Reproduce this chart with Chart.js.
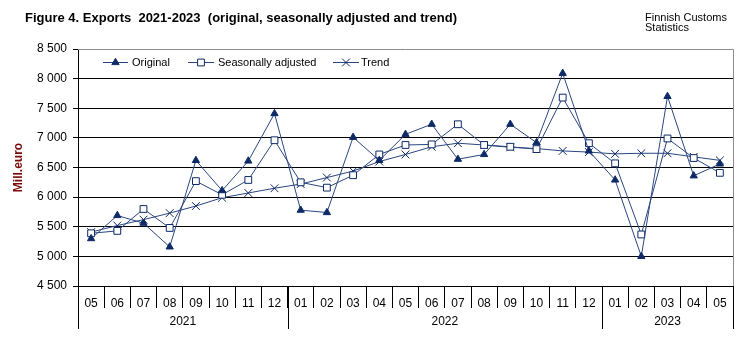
<!DOCTYPE html>
<html>
<head>
<meta charset="utf-8">
<script src="https://cdn.jsdelivr.net/npm/chart.js@4/dist/chart.umd.min.js"></script>
<style>
  html, body { margin: 0; padding: 0; background: #fff; }
  #wrap { width: 756px; height: 340px; position: relative; }
</style>
</head>
<body>
<div id="wrap"><canvas id="chart"></canvas></div>
<script>
// Month labels and the year each month belongs to
const months = ['05', '06', '07', '08', '09', '10', '11', '12',
    '01', '02', '03', '04', '05', '06', '07', '08', '09', '10', '11', '12',
    '01', '02', '03', '04', '05'];
const years = ['2021', '2022', '2023'];
const yearFirstIndex = [0, 8, 20]; // index of first month of each year

// Values in million euro
const original = [5300, 5690, 5560, 5160, 6620, 6110, 6610, 7410,
    5780, 5740, 7010, 6620, 7060, 7230, 6640, 6720, 7230, 6920, 8090, 6780,
    6290, 5000, 7700, 6360, 6560];
const seasonallyAdjusted = [5390, 5430, 5800, 5480, 6270, 6040, 6290, 6960,
    6250, 6160, 6370, 6720, 6880, 6890, 7230, 6880, 6850, 6810, 7680, 6910,
    6570, 5370, 6990, 6660, 6410];
const trend = [5410, 5520, 5620, 5730, 5850, 5990, 6070, 6150,
    6220, 6330, 6440, 6600, 6720, 6850, 6910, 6880, 6840, 6820, 6780, 6760,
    6730, 6740, 6740, 6680, 6620];

const FONT = "'Liberation Sans', Arial, sans-serif";
const LINE = '#2a4680';
const MARK = '#0e2a66';

// Thousands with a space: 8 500
function fmt(v) {
    return String(v).replace(/\B(?=(\d{3})+(?!\d))/g, ' ');
}

const seriesStyle = [
    { label: 'Original', data: original, pointStyle: 'triangle', pointRadius: 4.2, bg: MARK },
    { label: 'Seasonally adjusted', data: seasonallyAdjusted, pointStyle: 'rect', pointRadius: 4.8, bg: '#ffffff' },
    { label: 'Trend', data: trend, pointStyle: 'crossRot', pointRadius: 5.5, bg: MARK },
];

// Header texts, legend, year row and borders
const decorations = {
    id: 'decorations',
    afterDraw(chart) {
        const ctx = chart.ctx;
        const area = chart.chartArea;
        const x = chart.scales.x;
        ctx.save();

        // titles
        ctx.fillStyle = '#000';
        ctx.textBaseline = 'alphabetic';
        ctx.textAlign = 'left';
        ctx.font = 'bold 13px ' + FONT;
        ctx.fillText('Figure 4. Exports  2021-2023  (original, seasonally adjusted and trend)', 25, 22);
        ctx.font = '11px ' + FONT;
        ctx.fillText('Finnish Customs', 645, 21);
        ctx.fillText('Statistics', 645, 31);

        // plot border top and right (grey)
        ctx.strokeStyle = '#8c8c8c';
        ctx.lineWidth = 1;
        ctx.beginPath();
        ctx.moveTo(area.left, area.top + 0.5);
        ctx.lineTo(area.right + 0.5, area.top + 0.5);
        ctx.lineTo(area.right + 0.5, area.bottom);
        ctx.stroke();

        // year separators and year labels
        const half = (x.getPixelForValue(1) - x.getPixelForValue(0)) / 2;
        const seps = [x.getPixelForValue(0) - half, x.getPixelForValue(7) + half,
            x.getPixelForValue(19) + half, x.getPixelForValue(24) + half];
        ctx.strokeStyle = '#000';
        ctx.beginPath();
        seps.forEach((px) => {
            const sx = Math.round(px) + 0.5;
            ctx.moveTo(sx, area.bottom);
            ctx.lineTo(sx, 329);
        });
        ctx.stroke();
        ctx.font = '12px ' + FONT;
        ctx.textAlign = 'center';
        ctx.textBaseline = 'middle';
        years.forEach((y, i) => {
            const first = yearFirstIndex[i];
            const last = i + 1 < yearFirstIndex.length ? yearFirstIndex[i + 1] - 1 : months.length - 1;
            const cx = (x.getPixelForValue(first) + x.getPixelForValue(last)) / 2;
            ctx.fillText(y, cx, 322);
        });

        // legend inside the plot
        const items = [
            { x1: 103, x2: 128, tx: 132 },
            { x1: 188, x2: 214, tx: 218 },
            { x1: 333, x2: 359, tx: 361 },
        ];
        const ly = 62;
        ctx.textAlign = 'left';
        ctx.textBaseline = 'middle';
        items.forEach((it, i) => {
            const s = seriesStyle[i];
            ctx.strokeStyle = LINE;
            ctx.lineWidth = 1;
            ctx.beginPath();
            ctx.moveTo(it.x1, ly + 0.5);
            ctx.lineTo(it.x2, ly + 0.5);
            ctx.stroke();
            ctx.fillStyle = s.bg;
            ctx.strokeStyle = MARK;
            ctx.lineWidth = 1;
            Chart.helpers.drawPoint(ctx, {
                pointStyle: s.pointStyle, radius: s.pointRadius, rotation: 0, borderWidth: 1,
            }, (it.x1 + it.x2) / 2, ly + 0.5);
            ctx.fillStyle = '#000';
            ctx.font = '11px ' + FONT;
            ctx.fillText(s.label, it.tx, ly + 1);
        });

        ctx.restore();
    },
};

new Chart(document.getElementById('chart'), {
    type: 'line',
    data: {
        labels: months,
        datasets: seriesStyle.map((s) => ({
            label: s.label,
            data: s.data,
            borderColor: LINE,
            borderWidth: 1,
            pointStyle: s.pointStyle,
            pointRadius: s.pointRadius,
            pointBackgroundColor: s.bg,
            pointBorderColor: MARK,
            pointBorderWidth: 1,
            tension: 0,
        })),
    },
    options: {
        responsive: true,
        maintainAspectRatio: false,
        animation: false,
        layout: { padding: { top: 49, right: 23, bottom: 0, left: 0 } },
        plugins: {
            legend: { display: false },
            tooltip: { enabled: false },
        },
        scales: {
            x: {
                offset: true,
                grid: {
                    offset: true,
                    drawOnChartArea: false,
                    color: '#000',
                    tickLength: 22,
                },
                border: { color: '#000' },
                ticks: {
                    color: '#000',
                    font: { family: FONT, size: 12 },
                    padding: -12,
                    maxRotation: 0,
                    autoSkip: false,
                },
                afterFit(scale) { scale.height = 54; },
            },
            y: {
                min: 4500,
                max: 8500,
                grid: {
                    color: (c) => (c.tick && c.tick.value === 8500 ? 'rgba(0,0,0,0)' : '#000'),
                    tickColor: '#000',
                    tickLength: 5,
                },
                border: { color: '#000' },
                ticks: {
                    stepSize: 500,
                    color: '#000',
                    font: { family: FONT, size: 12 },
                    padding: 6,
                    callback: (v) => fmt(v),
                },
                title: {
                    display: true,
                    text: 'Mill.euro',
                    color: '#7a0a0a',
                    font: { family: FONT, size: 12, weight: 'bold' },
                    padding: { top: 11, bottom: 0 },
                },
                afterFit(scale) { scale.width = 78; },
            },
        },
    },
    plugins: [decorations],
});
</script>
</body>
</html>
